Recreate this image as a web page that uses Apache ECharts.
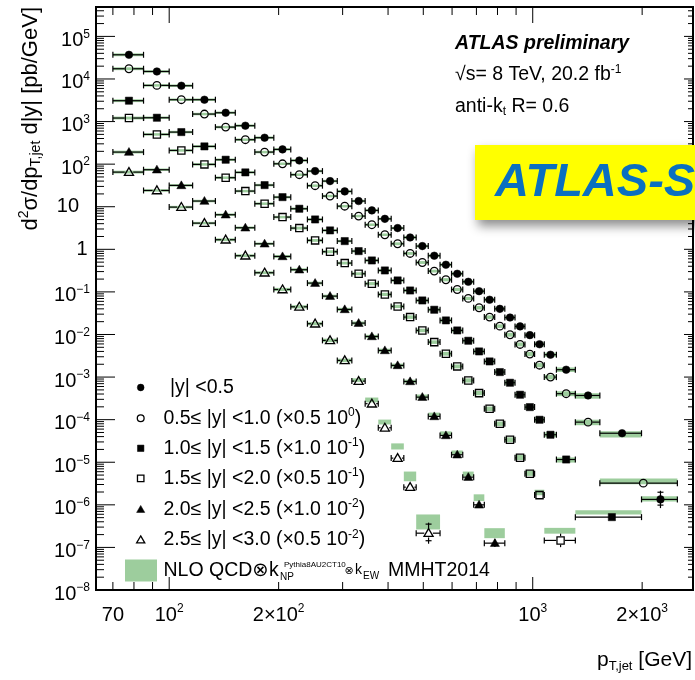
<!DOCTYPE html>
<html><head><meta charset="utf-8">
<script src="https://cdn.jsdelivr.net/npm/echarts@6/dist/echarts.min.js"></script>
<style>html,body{margin:0;padding:0;background:#fff}#c{width:695px;height:680px}</style>
</head><body><div id="c"></div>
<script>
// ---------------- data ----------------
const PT_EDGES = [70, 85, 100, 116, 134, 152, 172, 194, 216, 240, 264, 290, 318, 346, 376, 408, 442, 478, 516, 556, 598, 642, 688, 736, 786, 838, 894, 952, 1012, 1076, 1162, 1310, 1530, 1992, 2500];
const EDGES_Y0 = PT_EDGES.slice();
const EDGES_Y1 = PT_EDGES.slice(0, 33).concat([2500]);
const EDGES_Y2 = PT_EDGES.slice(0, 32).concat([1992]);
const EDGES_Y3 = PT_EDGES.slice(0, 30).concat([1310]);
const EDGES_Y4 = PT_EDGES.slice(0, 24).concat([838]);
const EDGES_Y5 = PT_EDGES.slice(0, 18).concat([556]);

// measured (scaled) cross sections
const DATA_Y0 = [3.7e4, 1.5e4, 6.95e3, 3.26e3, 1.61e3, 800, 418, 222, 122, 68.7, 40, 22.9, 13.6, 8.2, 5.2, 3.15, 1.9, 1.19, 0.708, 0.435, 0.267, 0.173, 0.104, 0.0655, 0.040, 0.025, 0.0155, 0.00966, 0.0059, 0.00335, 0.00149, 3.7e-4, 4.8e-5, 1.34e-6];
const DATA_Y1 = [1.74e4, 7.06e3, 3.26e3, 1.5e3, 741, 375, 192, 102, 56.5, 31.2, 17.8, 10.3, 6.03, 3.78, 2.2, 1.35, 0.80, 0.49, 0.308, 0.193, 0.114, 0.0703, 0.0425, 0.0256, 0.0157, 0.00986, 0.00584, 0.00346, 0.0019, 9.98e-4, 4.07e-4, 8.75e-5, 3.23e-6];
const DATA_Y2 = [3.09e3, 1.23e3, 566, 261, 127, 64, 32.2, 16.8, 8.97, 5.03, 2.78, 1.56, 0.908, 0.548, 0.319, 0.186, 0.108, 0.063, 0.0381, 0.0214, 0.01245, 0.00713, 0.0040, 0.00233, 0.00131, 7.36e-4, 3.85e-4, 1.97e-4, 9.95e-5, 4.42e-5, 1.16e-5, 5.14e-7];
const DATA_Y3 = [1.21e3, 499, 210, 98.7, 48.1, 23.3, 11.8, 5.71, 3.15, 1.62, 0.879, 0.475, 0.267, 0.156, 0.0873, 0.0456, 0.0256, 0.01245, 0.00662, 0.00353, 0.00178, 8.34e-4, 4.2e-4, 1.8e-4, 8.0e-5, 3.38e-5, 1.27e-5, 5.37e-6, 1.69e-6, 1.46e-7];
const DATA_Y4 = [192, 74, 31.7, 13.6, 6.49, 3.21, 1.35, 0.68, 0.332, 0.161, 0.0796, 0.0388, 0.0185, 0.009, 0.00422, 0.00188, 7.9e-4, 3.38e-4, 1.19e-4, 4.26e-5, 1.5e-5, 4.47e-6, 1.0e-6, 1.26e-7];
const DATA_Y5 = [65, 24.1, 9.8, 4.12, 1.68, 0.708, 0.282, 0.114, 0.0447, 0.0179, 0.00726, 0.00246, 8.04e-4, 2.37e-4, 6.45e-5, 1.25e-5, 2.6e-6, 2.16e-7];

// relative vertical uncertainty of the data
const ERR_Y0 = [0,0,0,0,0,0,0,0,0,0, 0,0,0,0,0,0,0,0,0,0, 0,0,0,0,0,0,0,0,0,0, 0,0.05,0.15,0.6];
const ERR_Y1 = [0,0,0,0,0,0,0,0,0,0, 0,0,0,0,0,0,0,0,0,0, 0,0,0,0,0,0,0,0,0,0, 0,0.05,0.2];
const ERR_Y2 = [0,0,0,0,0,0,0,0,0,0, 0,0,0,0,0,0,0,0,0,0, 0,0,0,0,0,0,0,0,0,0, 0.05,0.2];
const ERR_Y3 = [0,0,0,0,0,0,0,0,0,0, 0,0,0,0,0,0,0,0,0,0, 0,0,0,0,0,0,0,0,0.05,0.44];
const ERR_Y4 = [0,0,0,0,0,0,0,0,0,0, 0,0,0,0,0,0,0,0,0,0, 0,0.05,0.1,0.24];
const ERR_Y5 = [0,0,0,0,0,0,0,0,0,0, 0,0,0,0,0.05,0.1,0.15,0.77];

// NLO QCD prediction (central) and relative band half-size
const TH_Y0 = [3.7e4, 1.5e4, 6.95e3, 3.26e3, 1.61e3, 800, 418, 222, 122, 68.7, 40, 22.9, 13.6, 8.2, 5.2, 3.15, 1.9, 1.19, 0.708, 0.435, 0.267, 0.173, 0.104, 0.0655, 0.040, 0.025, 0.0155, 0.00966, 0.0059, 0.00335, 0.00149, 3.6e-4, 4.5e-5, 1.38e-6];
const TH_Y1 = [1.74e4, 7.06e3, 3.26e3, 1.5e3, 741, 375, 192, 102, 56.5, 31.2, 17.8, 10.3, 6.03, 3.78, 2.2, 1.35, 0.80, 0.49, 0.308, 0.193, 0.114, 0.0703, 0.0425, 0.0256, 0.0157, 0.00986, 0.00584, 0.00346, 0.0019, 9.98e-4, 4.07e-4, 8.6e-5, 3.54e-6];
const TH_Y2 = [3.09e3, 1.23e3, 566, 261, 127, 64, 32.2, 16.8, 8.97, 5.03, 2.78, 1.56, 0.908, 0.548, 0.319, 0.186, 0.108, 0.063, 0.0381, 0.0214, 0.01245, 0.00713, 0.0040, 0.00233, 0.00131, 7.36e-4, 3.85e-4, 1.97e-4, 9.95e-5, 4.42e-5, 1.13e-5, 6.62e-7];
const TH_Y3 = [1.21e3, 499, 210, 98.7, 48.1, 23.3, 11.8, 5.71, 3.15, 1.62, 0.879, 0.475, 0.267, 0.156, 0.0873, 0.0456, 0.0256, 0.01245, 0.00662, 0.00353, 0.00178, 8.34e-4, 4.2e-4, 1.8e-4, 8.0e-5, 3.38e-5, 1.3e-5, 5.5e-6, 1.95e-6, 2.46e-7];
const TH_Y4 = [192, 74, 31.7, 13.6, 6.49, 3.21, 1.35, 0.68, 0.332, 0.161, 0.0796, 0.0388, 0.0185, 0.009, 0.00422, 0.00188, 7.9e-4, 3.5e-4, 1.33e-4, 4.74e-5, 1.7e-5, 5.3e-6, 1.47e-6, 2.16e-7];
const TH_Y5 = [65, 24.1, 9.8, 4.12, 1.68, 0.708, 0.282, 0.114, 0.0447, 0.0179, 0.00726, 0.00246, 8.5e-4, 2.9e-4, 8.8e-5, 2.35e-5, 4.65e-6, 3.96e-7];
const UNC_Y0 = [0.08,0.07,0.07,0.07,0.07,0.07,0.07,0.07,0.07,0.07, 0.07,0.07,0.07,0.07,0.07,0.07,0.08,0.08,0.08,0.08, 0.09,0.09,0.09,0.10,0.10,0.10,0.11,0.11,0.12,0.12, 0.13,0.16,0.18,0.15];
const UNC_Y1 = [0.08,0.07,0.07,0.07,0.07,0.07,0.07,0.07,0.07,0.07, 0.07,0.07,0.07,0.07,0.07,0.08,0.08,0.08,0.08,0.09, 0.09,0.09,0.10,0.10,0.10,0.11,0.11,0.12,0.12,0.13, 0.14,0.16,0.17];
const UNC_Y2 = [0.08,0.07,0.07,0.07,0.07,0.07,0.07,0.07,0.07,0.07, 0.07,0.07,0.08,0.08,0.08,0.08,0.09,0.09,0.09,0.10, 0.10,0.10,0.11,0.11,0.12,0.12,0.13,0.13,0.14,0.14, 0.15,0.12];
const UNC_Y3 = [0.08,0.07,0.07,0.07,0.07,0.07,0.07,0.07,0.08,0.08, 0.08,0.08,0.08,0.09,0.09,0.09,0.10,0.10,0.10,0.11, 0.11,0.12,0.12,0.13,0.13,0.14,0.15,0.15,0.16,0.17];
const UNC_Y4 = [0.08,0.07,0.07,0.07,0.07,0.07,0.07,0.08,0.08,0.08, 0.08,0.09,0.09,0.09,0.10,0.10,0.10,0.11,0.10,0.12, 0.11,0.14,0.20,0.31];
const UNC_Y5 = [0.08,0.07,0.07,0.07,0.08,0.08,0.08,0.09,0.09,0.09, 0.10,0.10,0.10,0.14,0.14,0.18,0.30,0.50];

const LEGEND_LABELS = ['|y| <0.5', '0.5\u2264 |y| <1.0 (\u00d70.5 10{sup|0})', '1.0\u2264 |y| <1.5 (\u00d71.0 10{sup|-1})', '1.5\u2264 |y| <2.0 (\u00d70.5 10{sup|-1})', '2.0\u2264 |y| <2.5 (\u00d71.0 10{sup|-2})', '2.5\u2264 |y| <3.0 (\u00d70.5 10{sup|-2})'];
const MARKERS = ['circle', 'circleOpen', 'square', 'squareOpen', 'triangle', 'triangleOpen'];

const X_TICK_VALUES = [70, 100, 200, 1000, 2000];
const X_TICK_LABELS = ['70', '10{sup|2}', '2\u00d710{sup|2}', '10{sup|3}', '2\u00d710{sup|3}'];
const Y_TICK_VALUES = [1e-8, 1e-7, 1e-6, 1e-5, 1e-4, 1e-3, 1e-2, 1e-1, 1, 10, 1e2, 1e3, 1e4, 1e5];
const Y_TICK_LABELS = ['10{sup|\u22128}', '10{sup|\u22127}', '10{sup|\u22126}', '10{sup|\u22125}', '10{sup|\u22124}', '10{sup|\u22123}', '10{sup|\u22122}', '10{sup|\u22121}', '1', '10', '10{sup|2}', '10{sup|3}', '10{sup|4}', '10{sup|5}'];

// ---------------- chart ----------------
const X_MIN = 62.9, X_MAX = 2760, Y_MIN = 1e-8, Y_MAX = 4.9e5;
const GREEN = '#9dcd9d';
const FONT = '"Liberation Sans", Arial, Helvetica, "DejaVu Sans", sans-serif';

function rich(F, extra) {
  const base = Object.assign({fontFamily: FONT, fill: '#000'}, extra || {});
  const s = Math.round(F * 0.62);
  return {
    sup: Object.assign({}, base, {fontSize: s, lineHeight: s, verticalAlign: 'top'}),
    sub: Object.assign({}, base, {fontSize: s, lineHeight: Math.round(F * 0.5), verticalAlign: 'bottom'})
  };
}
function txt(x, y, text, F, align, extra) {
  align = align || 'left';
  return {
    type: 'text', x: x, y: y, silent: true, z: 100,
    style: Object.assign({
      text: text, fontSize: F, lineHeight: Math.round(F * 1.2), fontFamily: FONT, fill: '#000',
      align: align, verticalAlign: 'middle', textAlign: align, textVerticalAlign: 'middle',
      rich: rich(F, extra)
    }, extra || {})
  };
}

function markerEl(kind, cx, cy, r) {
  const open = kind.indexOf('Open') > 0;
  const st = open ? {fill: 'none', stroke: '#000', lineWidth: 1.3} : {fill: '#000', stroke: '#000', lineWidth: 0.5};
  if (kind.indexOf('circle') === 0) return {type: 'circle', shape: {cx: cx, cy: cy, r: r}, style: st};
  if (kind.indexOf('square') === 0) return {type: 'rect', shape: {x: cx - r * 0.95, y: cy - r * 0.95, width: r * 1.9, height: r * 1.9}, style: st};
  const t = r * 1.2;
  return {type: 'polygon', shape: {points: [[cx, cy - t], [cx + t, cy + t * 0.72], [cx - t, cy + t * 0.72]]}, style: st};
}

function theorySeries(edges, th, unc) {
  const data = th.map((c, i) => [edges[i], edges[i + 1], c / (1 + unc[i]), c * (1 + unc[i])]);
  return {
    type: 'custom', silent: true, data: data, encode: {x: [0, 1], y: [2, 3]},
    renderItem: function (params, api) {
      const a = api.coord([api.value(0), api.value(3)]);
      const b = api.coord([api.value(1), api.value(2)]);
      return {type: 'rect', shape: {x: a[0], y: a[1], width: b[0] - a[0], height: b[1] - a[1]}, style: {fill: GREEN}};
    }
  };
}

function dataSeries(edges, vals, errs, kind) {
  const data = vals.map((v, i) => [edges[i], edges[i + 1], v, errs[i]]);
  const open = kind.indexOf('Open') > 0;
  return {
    type: 'custom', silent: true, data: data, encode: {x: [0, 1], y: 2},
    renderItem: function (params, api) {
      const lo = api.value(0), hi = api.value(1), v = api.value(2), e = api.value(3);
      const xc = (lo + hi) / 2;
      const c = api.coord([xc, v]);
      const a = api.coord([lo, v]), b = api.coord([hi, v]);
      const r = 3.8;
      const gap = open ? r + 0.5 : 0;
      const ls = {stroke: '#000', lineWidth: 1.2};
      const ch = [];
      ch.push({type: 'line', shape: {x1: a[0], y1: c[1], x2: c[0] - gap, y2: c[1]}, style: ls});
      ch.push({type: 'line', shape: {x1: c[0] + gap, y1: c[1], x2: b[0], y2: c[1]}, style: ls});
      ch.push({type: 'line', shape: {x1: a[0], y1: c[1] - 3, x2: a[0], y2: c[1] + 3}, style: ls});
      ch.push({type: 'line', shape: {x1: b[0], y1: c[1] - 3, x2: b[0], y2: c[1] + 3}, style: ls});
      if (e > 0) {
        const up = api.coord([xc, v * (1 + e)]), dn = api.coord([xc, v / (1 + e)]);
        if (c[1] - up[1] > r) ch.push({type: 'line', shape: {x1: c[0], y1: up[1], x2: c[0], y2: c[1] - gap}, style: ls});
        if (dn[1] - c[1] > r) ch.push({type: 'line', shape: {x1: c[0], y1: c[1] + gap, x2: c[0], y2: dn[1]}, style: ls});
        if (c[1] - up[1] > r + 3) ch.push({type: 'line', shape: {x1: c[0] - 3, y1: up[1] + 1.5, x2: c[0] + 3, y2: up[1] + 1.5}, style: ls});
        if (dn[1] - c[1] > r + 3) ch.push({type: 'line', shape: {x1: c[0] - 3, y1: dn[1] - 3, x2: c[0] + 3, y2: dn[1] - 3}, style: ls});
      }
      ch.push(markerEl(kind, c[0], c[1], r));
      return {type: 'group', children: ch};
    }
  };
}

// axis ticks (ROOT style, on all four sides)
const yTickData = [];
for (let n = -8; n <= 5; n++) for (let k = 1; k <= 9; k++) { const v = k * Math.pow(10, n); if (v <= Y_MAX * 1.0001) yTickData.push([X_MIN, v, k === 1 ? 1 : 0]); }
const xTickData = [70, 80, 90, 100, 200, 300, 400, 500, 600, 700, 800, 900, 1000, 2000].map(v => [v, Y_MIN, (v === 100 || v === 1000) ? 1 : 0]);
const tickStyle = {stroke: '#000', lineWidth: 1};

const series = [];
const EDGES = [EDGES_Y0, EDGES_Y1, EDGES_Y2, EDGES_Y3, EDGES_Y4, EDGES_Y5];
const DATA = [DATA_Y0, DATA_Y1, DATA_Y2, DATA_Y3, DATA_Y4, DATA_Y5];
const ERRS = [ERR_Y0, ERR_Y1, ERR_Y2, ERR_Y3, ERR_Y4, ERR_Y5];
const THS = [TH_Y0, TH_Y1, TH_Y2, TH_Y3, TH_Y4, TH_Y5];
const UNCS = [UNC_Y0, UNC_Y1, UNC_Y2, UNC_Y3, UNC_Y4, UNC_Y5];
for (let i = 0; i < 6; i++) series.push(theorySeries(EDGES[i], THS[i], UNCS[i]));
for (let i = 0; i < 6; i++) series.push(dataSeries(EDGES[i], DATA[i], ERRS[i], MARKERS[i]));

series.push({
  type: 'custom', silent: true, data: yTickData, encode: {x: 0, y: 1}, z: 5,
  renderItem: function (params, api) {
    const v = api.value(1), major = api.value(2) === 1;
    const L = api.coord([X_MIN, v]), R = api.coord([X_MAX, v]);
    return {type: 'group', children: [
      {type: 'line', shape: {x1: L[0], y1: L[1], x2: L[0] + (major ? 19 : 8), y2: L[1]}, style: tickStyle},
      {type: 'line', shape: {x1: R[0], y1: R[1], x2: R[0] - (major ? 9 : 5), y2: R[1]}, style: tickStyle}
    ]};
  }
});
series.push({
  type: 'custom', silent: true, data: xTickData, encode: {x: 0, y: 1}, z: 5,
  renderItem: function (params, api) {
    const v = api.value(0), major = api.value(2) === 1;
    const B = api.coord([v, Y_MIN]), T = api.coord([v, Y_MAX]);
    return {type: 'group', children: [
      {type: 'line', shape: {x1: B[0], y1: B[1], x2: B[0], y2: B[1] - (major ? 13 : 8)}, style: tickStyle},
      {type: 'line', shape: {x1: T[0], y1: T[1], x2: T[0], y2: T[1] + (major ? 16 : 8)}, style: tickStyle}
    ]};
  }
});
// tick labels
series.push({
  type: 'custom', silent: true, data: X_TICK_VALUES.map((v, i) => [v, Y_MIN, i]), encode: {x: 0, y: 1},
  renderItem: function (params, api) {
    const p = api.coord([api.value(0), Y_MIN]);
    return txt(p[0], p[1] + 25, X_TICK_LABELS[api.value(2)], 20, 'center');
  }
});
series.push({
  type: 'custom', silent: true, data: Y_TICK_VALUES.map((v, i) => [X_MIN, v, i]), encode: {x: 0, y: 1},
  renderItem: function (params, api) {
    const p = api.coord([X_MIN, api.value(1)]);
    const lab = Y_TICK_LABELS[api.value(2)];
    const hasSup = lab.indexOf('{sup') >= 0;
    let xr = p[0] - 6;
    if (lab === '10') xr = p[0] - 17;
    if (lab === '1') xr = p[0] - 8.5;
    return txt(xr, p[1] + (hasSup ? 4 : 0), lab, 20, 'right');
  }
});

// ---------------- graphics: legend, annotations, titles ----------------
const graphic = [];
const LEG_Y = [387.5, 418.3, 448.3, 478.3, 509.5, 540];
for (let i = 0; i < 6; i++) {
  const m = markerEl(MARKERS[i], 140.7, LEG_Y[i], 3.4);
  m.z = 100; m.silent = true;
  graphic.push(m);
  graphic.push(txt(i === 0 ? 170 : 163.5, LEG_Y[i], LEGEND_LABELS[i], 19.5));
}
graphic.push({type: 'rect', z: 100, silent: true, shape: {x: 125, y: 559.5, width: 32, height: 22}, style: {fill: GREEN}});
graphic.push(txt(163.5, 570.5, 'NLO QCD\u2297', 19.5));
graphic.push(txt(269, 570.5, 'k', 19.5));
graphic.push(txt(284, 564.5, 'Pythia8AU2CT10', 8));
graphic.push(txt(280, 577, 'NP', 10));
graphic.push(txt(344.5, 571, '\u2297', 11));
graphic.push(txt(355, 570.5, 'k', 14));
graphic.push(txt(363, 576, 'EW', 10));
graphic.push(txt(388, 570.5, 'MMHT2014', 19.5));

graphic.push(txt(455, 43.5, 'ATLAS preliminary', 19.5, 'left', {fontWeight: 'bold', fontStyle: 'italic'}));
graphic.push(txt(455, 75, '\u221as= 8 TeV, 20.2 fb{sup|-1}', 19.5));
graphic.push(txt(455, 106.5, 'anti-k{sub|t} R= 0.6', 19.5));

graphic.push({type: 'rect', z: 110, silent: true, shape: {x: 475, y: 145, width: 240, height: 75},
  style: {fill: '#ffff00', shadowBlur: 10, shadowOffsetX: 3, shadowOffsetY: 6, shadowColor: 'rgba(0,0,0,0.45)'}});
const banner = txt(495, 183.5, 'ATLAS-S', 47, 'left', {fontWeight: 'bold', fontStyle: 'italic', fill: '#0a6fc0'});
banner.z = 111;
graphic.push(banner);

const yTitle = txt(30.5, 7, 'd{sup|2}\u03c3/dp{sub|T,jet} d|y| [pb/GeV]', 22, 'right');
yTitle.rotation = Math.PI / 2;
graphic.push(yTitle);
graphic.push(txt(692, 660, 'p{sub|T,jet} [GeV]', 21, 'right'));

const chart = echarts.init(document.getElementById('c'), null, {renderer: 'canvas'});
chart.setOption({
  animation: false,
  backgroundColor: '#fff',
  grid: {left: 96, right: 2, top: 7, bottom: 90, show: true, borderColor: '#000', borderWidth: 2, backgroundColor: 'transparent'},
  xAxis: {type: 'log', logBase: 10, min: X_MIN, max: X_MAX, axisLine: {show: false}, axisTick: {show: false}, axisLabel: {show: false}, splitLine: {show: false}},
  yAxis: {type: 'log', logBase: 10, min: Y_MIN, max: Y_MAX, axisLine: {show: false}, axisTick: {show: false}, axisLabel: {show: false}, splitLine: {show: false}},
  series: series,
  graphic: graphic
});
</script></body></html>
